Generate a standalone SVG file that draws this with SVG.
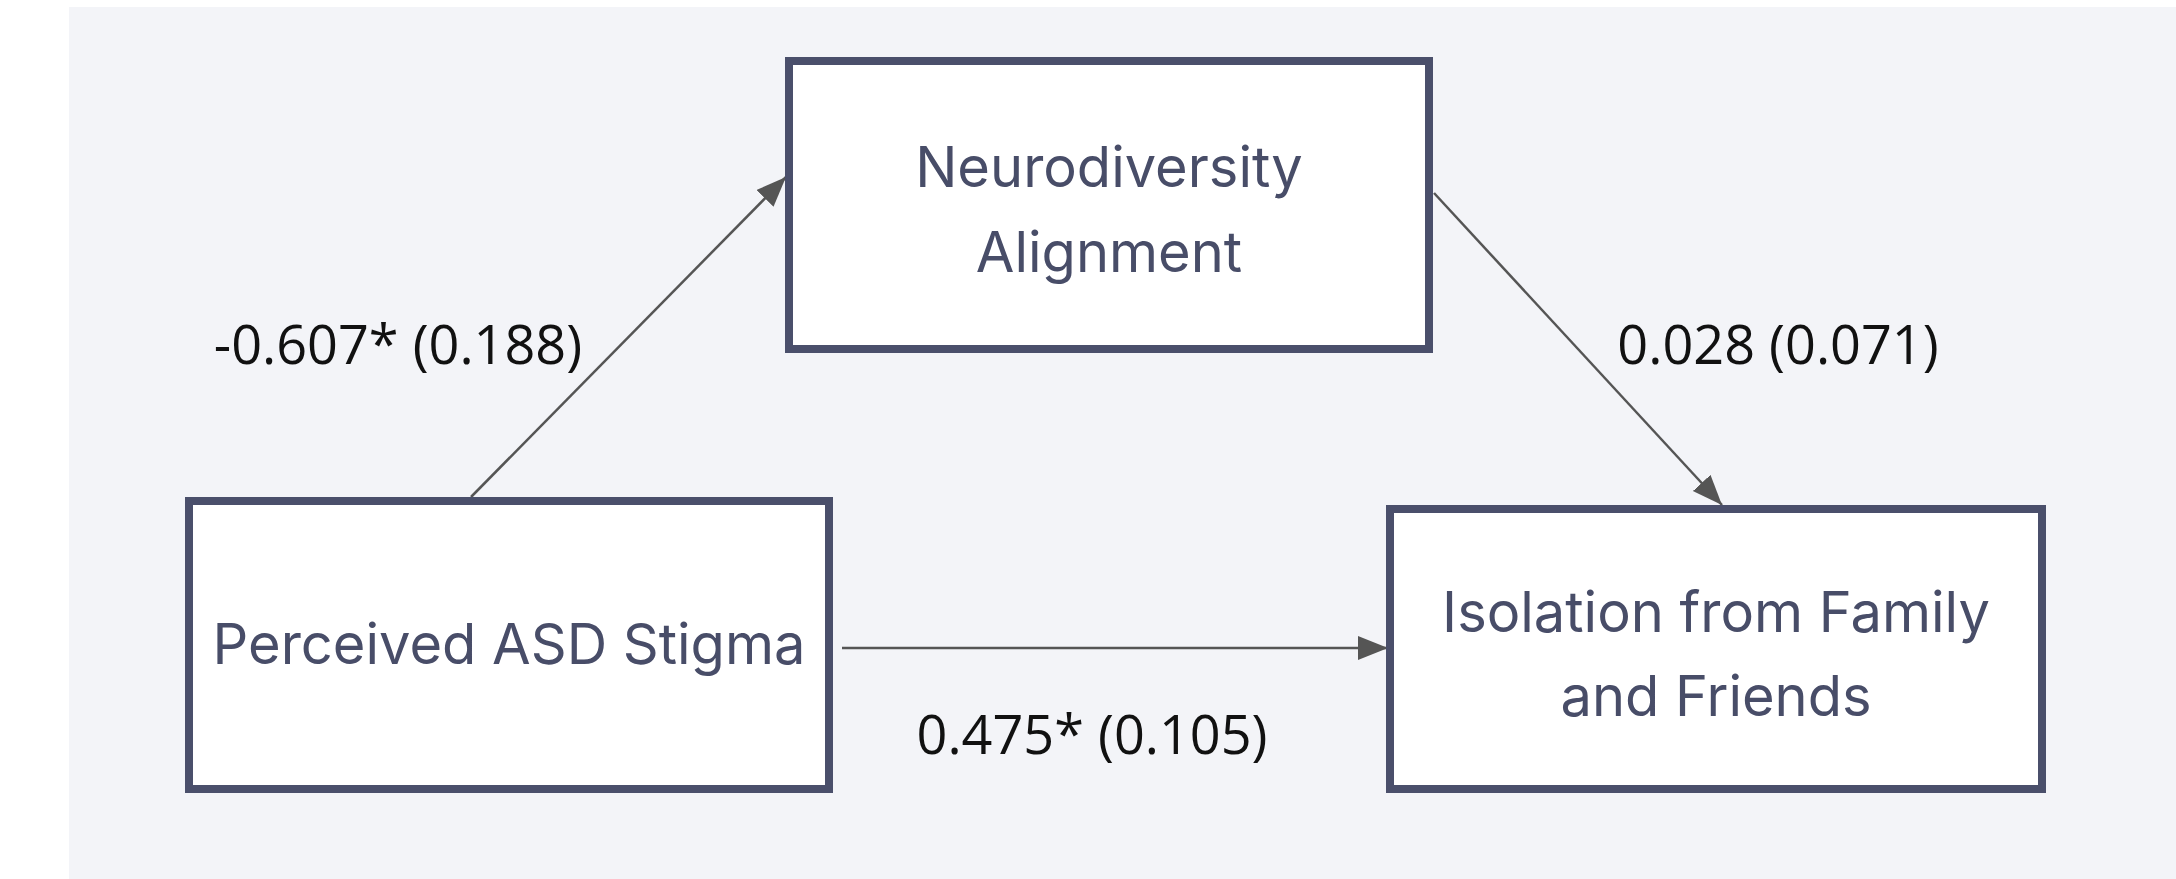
<svg xmlns="http://www.w3.org/2000/svg" width="2176" height="879" viewBox="0 0 2176 879">
  <style>
    .box { fill: #ffffff; stroke: #4a4f6b; stroke-width: 8; }
    .ntxt { font-family: Inter, "Noto Sans", "Liberation Sans", sans-serif; font-size: 56px; fill: #484d68; text-anchor: middle; }
    .lbl { font-family: "Open Sans", "Noto Sans", "Liberation Sans", sans-serif; font-size: 54px; fill: #111111; text-anchor: middle; }
    .edge { stroke: #555555; stroke-width: 2.5; fill: none; marker-end: url(#arrow); }
  </style>
  <defs>
    <marker id="arrow" markerUnits="userSpaceOnUse" markerWidth="32" markerHeight="26" refX="30" refY="12" orient="auto">
      <path d="M0,0 L30,12 L0,24 z" fill="#555555"/>
    </marker>
  </defs>
  <rect x="0" y="0" width="2176" height="879" fill="#ffffff"/>
  <rect x="69" y="7" width="2107" height="872" fill="#f3f4f8"/>

  <g id="connectors">
    <line class="edge" x1="471" y1="497" x2="786" y2="177"/>
    <line class="edge" x1="1434" y1="193" x2="1722" y2="505"/>
    <line class="edge" x1="842" y1="648" x2="1388" y2="648"/>
    <text class="lbl" x="398" y="364">-0.607* (0.188)</text>
    <text class="lbl" x="1778" y="364">0.028 (0.071)</text>
    <text class="lbl" x="1092" y="754">0.475* (0.105)</text>
  </g>

  <g id="node-neurodiversity">
    <rect class="box" x="789" y="61" width="640" height="288"/>
    <text class="ntxt" x="1109" y="187">Neurodiversity</text>
    <text class="ntxt" x="1109" y="272">Alignment</text>
  </g>

  <g id="node-stigma">
    <rect class="box" x="189" y="501" width="640" height="288"/>
    <text class="ntxt" x="509" y="664">Perceived ASD Stigma</text>
  </g>

  <g id="node-isolation">
    <rect class="box" x="1390" y="509" width="652" height="280"/>
    <text class="ntxt" x="1716" y="632">Isolation from Family</text>
    <text class="ntxt" x="1716" y="716">and Friends</text>
  </g>
</svg>
